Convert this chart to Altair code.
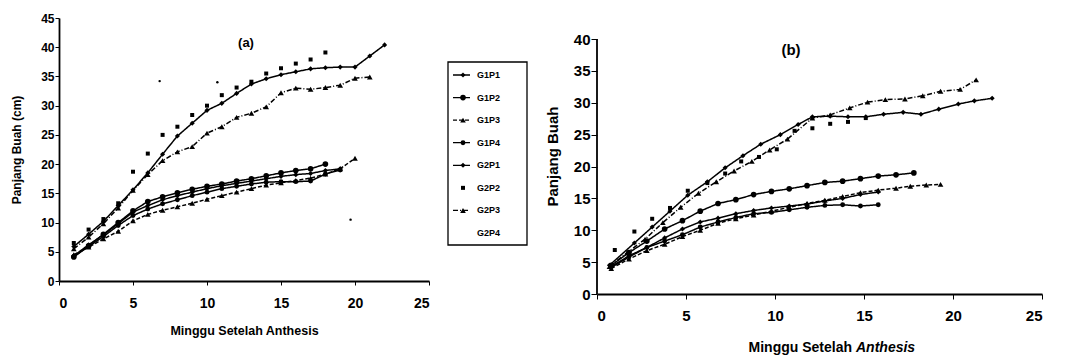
import altair as alt
import pandas as pd

FONT = "Liberation Sans"

SERIES = ["G1P1", "G1P2", "G1P3", "G1P4", "G2P1", "G2P2", "G2P3", "G2P4"]
SHAPES = ["diamond", "circle", "triangle-up", "circle", "diamond", "square", "triangle-up", "circle"]
SIZES = [26, 32, 32, 24, 26, 16, 32, 6]
DASHES = [[1, 0], [1, 0], [4, 2], [1, 0], [1, 0], [1, 0], [5, 2, 1, 2], [1, 0]]
LINE_SERIES = ["G1P1", "G1P2", "G1P3", "G1P4", "G2P1", "G2P3"]
LEGEND_LINE = [1, 1, 1, 1, 1, 0, 1, 0]
LEGEND_MARK = [1, 1, 1, 1, 1, 1, 1, 0]

# ---------------- panel (a) ----------------
A_WEEKS = {
    "G1P1": list(range(1, 20)),
    "G1P2": list(range(1, 19)),
    "G1P3": list(range(1, 21)),
    "G1P4": list(range(1, 20)),
    "G2P1": list(range(1, 23)),
    "G2P2": list(range(1, 19)),
    "G2P3": list(range(1, 22)),
    "G2P4": [6.8, 10.7, 19.7],
}
A_VALUES = {
    "G1P1": [4.3, 6.2, 7.9, 9.8, 11.8, 12.9, 13.9, 14.6, 15.2, 15.8, 16.3, 16.7, 17.1, 17.5, 17.9, 18.2, 18.4, 18.9, 19.2],
    "G1P2": [4.1, 6.0, 8.0, 10.0, 12.0, 13.6, 14.4, 15.1, 15.7, 16.2, 16.6, 17.1, 17.5, 18.0, 18.5, 18.9, 19.2, 20.0],
    "G1P3": [4.5, 5.8, 7.2, 8.5, 10.3, 11.4, 12.1, 12.7, 13.3, 14.0, 14.6, 15.2, 15.8, 16.4, 16.8, 17.2, 17.6, 18.3, 19.2, 21.0],
    "G1P4": [4.2, 5.9, 7.6, 9.5, 11.2, 12.3, 13.2, 13.9, 14.6, 15.2, 15.8, 16.2, 16.6, 16.9, 17.0, 17.0, 17.1, 18.3, 19.0],
    "G2P1": [5.9, 8.0, 10.2, 12.9, 15.6, 18.5, 21.7, 24.8, 27.0, 29.2, 30.4, 32.1, 33.7, 34.6, 35.3, 35.8, 36.3, 36.5, 36.6, 36.6, 38.5, 40.4],
    "G2P2": [6.5, 8.8, 10.6, 13.3, 18.7, 21.8, 25.0, 26.4, 28.4, 30.0, 31.8, 33.1, 34.1, 35.5, 36.4, 37.2, 37.9, 39.1],
    "G2P3": [5.5, 7.5, 9.8, 12.5, 15.5, 18.2, 20.6, 22.1, 23.0, 25.3, 26.4, 28.0, 28.7, 29.8, 32.2, 33.0, 32.8, 33.1, 33.5, 34.7, 34.9],
    "G2P4": [34.2, 34.0, 10.5],
}

# ---------------- panel (b) ----------------
B_WEEKS = {
    "G1P1": [0.8, 1.8, 2.8, 3.8, 4.8, 5.8, 6.8, 7.8, 8.8, 9.8, 10.8, 11.8, 12.8, 13.8, 14.8, 15.8],
    "G1P2": [0.8, 1.8, 2.8, 3.8, 4.8, 5.8, 6.8, 7.8, 8.8, 9.8, 10.8, 11.8, 12.8, 13.8, 14.8, 15.8, 16.8, 17.8],
    "G1P3": [0.8, 1.8, 2.8, 3.8, 4.8, 5.8, 6.8, 7.8, 8.8, 9.8, 10.8, 11.8, 12.8, 13.8, 14.8, 15.8, 16.8, 17.6, 18.5, 19.3],
    "G1P4": [0.8, 1.8, 2.8, 3.8, 4.8, 5.8, 6.8, 7.8, 8.8, 9.8, 10.8, 11.8, 12.8, 13.8, 14.8, 15.8],
    "G2P1": [0.7, 2.1, 3.1, 4.1, 5.1, 6.2, 7.2, 8.2, 9.2, 10.3, 11.3, 12.1, 13.1, 14.1, 15.1, 16.1, 17.2, 18.2, 19.2, 20.3, 21.2, 22.2],
    "G2P2": [1.0, 2.1, 3.1, 4.1, 5.1, 6.2, 7.2, 8.1, 9.1, 10.1, 11.1, 12.1, 13.1, 14.1, 15.1],
    "G2P3": [0.7, 1.7, 2.7, 3.7, 4.7, 5.7, 6.7, 7.7, 8.7, 9.7, 10.7, 12.1, 13.1, 14.2, 15.2, 16.2, 17.3, 18.3, 19.3, 20.4, 21.3],
}
B_VALUES = {
    "G1P1": [4.2, 5.8, 7.3, 8.8, 10.2, 11.3, 11.9, 12.6, 13.1, 13.5, 13.8, 14.1, 14.6, 15.0, 15.6, 16.0],
    "G1P2": [4.5, 6.5, 8.3, 10.2, 11.5, 13.0, 14.2, 14.8, 15.6, 16.1, 16.5, 17.0, 17.5, 17.7, 18.1, 18.5, 18.7, 19.0],
    "G1P3": [4.0, 5.5, 6.8, 7.8, 9.0, 10.0, 11.1, 11.8, 12.4, 13.0, 13.6, 14.2, 14.7, 15.3, 15.9, 16.3, 16.6, 16.9, 17.1, 17.2],
    "G1P4": [4.3, 6.0, 7.3, 8.3, 9.3, 10.5, 11.3, 12.0, 12.6, 12.8, 13.2, 13.6, 13.9, 14.0, 13.8, 14.0],
    "G2P1": [4.5, 8.0, 10.5, 13.0, 15.5, 17.6, 19.8, 21.7, 23.5, 25.0, 26.6, 27.8, 27.9, 27.8, 27.8, 28.2, 28.5, 28.2, 29.0, 29.8, 30.3, 30.7],
    "G2P2": [6.9, 9.8, 11.8, 13.5, 16.2, 17.4, 18.9, 20.8, 21.5, 22.7, 25.6, 26.0, 26.7, 27.0, 27.6],
    "G2P3": [4.3, 6.5, 8.6, 11.2, 13.6, 15.8, 17.6, 19.3, 20.8, 22.6, 24.3, 27.6, 28.1, 29.2, 30.1, 30.5, 30.6, 31.1, 31.8, 32.1, 33.6],
}

X_TICKS = [0, 5, 10, 15, 20, 25]
A_Y_TICKS = [0, 5, 10, 15, 20, 25, 30, 35, 40, 45]
B_Y_TICKS = [0, 5, 10, 15, 20, 25, 30, 35, 40]


def build(weeks, values):
    rows = []
    for s in SERIES:
        if s in values:
            for w, v in zip(weeks[s], values[s]):
                rows.append({"series": s, "week": w, "value": v})
    return pd.DataFrame(rows)


one = pd.DataFrame({"k": [0]})

shape_scale = alt.Scale(domain=SERIES, range=SHAPES)
size_scale = alt.Scale(type="ordinal", domain=SERIES, range=SIZES)
dash_scale = alt.Scale(domain=SERIES, range=DASHES)
x_scale = alt.Scale(domain=[0, 25], nice=False, zero=False)


def panel(df, yscale, xaxis, yaxis, width, height, extra):
    base = alt.Chart(df).encode(
        x=alt.X("week:Q", scale=x_scale, axis=xaxis),
        y=alt.Y("value:Q", scale=yscale, axis=yaxis),
    )
    lines = base.transform_filter(
        alt.FieldOneOfPredicate(field="series", oneOf=LINE_SERIES)
    ).mark_line(color="black", strokeWidth=1.5).encode(
        strokeDash=alt.StrokeDash("series:N", scale=dash_scale, legend=None),
        order="week:Q",
    )
    points = base.mark_point(filled=True, color="black", opacity=1).encode(
        shape=alt.Shape("series:N", scale=shape_scale, legend=None),
        size=alt.Size("series:N", scale=size_scale, legend=None),
    )
    return alt.layer(lines, points, *extra).properties(width=width, height=height)


dfa = build(A_WEEKS, A_VALUES)
dfb = build(B_WEEKS, B_VALUES)

axa_x = alt.Axis(values=X_TICKS, title="Minggu Setelah Anthesis", grid=False, labelFontSize=14,
                 titleFontSize=12.5, tickSize=4, labelPadding=11, titlePadding=14, domainWidth=1.8,
                 labelAngle=0, labelOverlap=False)
axa_y = alt.Axis(values=A_Y_TICKS, title="Panjang Buah (cm)", grid=False, labelFontSize=12,
                 titleFontSize=12, tickSize=4, labelPadding=1, titlePadding=17, domainWidth=1.8,
                 labelOverlap=False)
title_a = alt.Chart(one).mark_text(text="(a)", font=FONT, fontWeight="bold", fontSize=13,
                                   color="black").encode(x=alt.value(187), y=alt.value(25))
pa = panel(dfa, alt.Scale(domain=[0, 45], nice=False), axa_x, axa_y, 370, 263, [title_a])

axb_x = alt.Axis(values=X_TICKS, title=None, grid=False, labelFontSize=15, tickSize=5,
                 labelPadding=9, domainWidth=1.8, labelAngle=0, labelOverlap=False)
axb_y = alt.Axis(values=B_Y_TICKS, title="Panjang Buah", grid=False, labelFontSize=15,
                 titleFontSize=15, tickSize=6, labelPadding=1, titlePadding=13, domain=False,
                 labelOverlap=False)
yb_scale = alt.Scale(domain=[0, 43.3], nice=False)
yline_b = alt.Chart(one).mark_rule(color="black", strokeWidth=1.8).encode(
    x=alt.XDatum(0, scale=x_scale, axis=axb_x),
    y=alt.YDatum(0, scale=yb_scale, axis=axb_y),
    y2=alt.Y2Datum(40),
)
title_b = alt.Chart(one).mark_text(text="(b)", font=FONT, fontWeight="bold", fontSize=15,
                                   color="black").encode(x=alt.value(194), y=alt.value(32))
xt1 = alt.Chart(one).mark_text(text="Minggu Setelah", font=FONT, fontWeight="bold", fontSize=14,
                               align="right", color="black").encode(x=alt.value(255), y=alt.value(330))
xt2 = alt.Chart(one).mark_text(text="Anthesis", font=FONT, fontWeight="bold", fontStyle="italic",
                               fontSize=14, align="left", color="black").encode(x=alt.value(259), y=alt.value(330))
pb = panel(dfb, yb_scale, axb_x, axb_y, 445, 276, [yline_b, title_b, xt1, xt2])

# ---------------- legend ----------------
leg_df = pd.DataFrame({"series": SERIES, "line": LEGEND_LINE, "mark": LEGEND_MARK})
ly = alt.Y("series:N", sort=SERIES, scale=alt.Scale(type="point", range=[57, 215], padding=0), axis=None)
leg_box = alt.Chart(one).mark_rect(fillOpacity=0, stroke="black", strokeWidth=1.3).encode(
    x=alt.value(4), x2=alt.value(83), y=alt.value(44), y2=alt.value(227))
leg_lines = alt.Chart(leg_df).mark_rule(color="black", strokeWidth=1.3).encode(
    x=alt.value(9), x2=alt.value(26), y=ly,
    strokeDash=alt.StrokeDash("series:N", scale=dash_scale, legend=None),
    opacity=alt.Opacity("line:Q", scale=alt.Scale(domain=[0, 1], range=[0, 1]), legend=None),
)
leg_marks = alt.Chart(leg_df).mark_point(filled=True, color="black").encode(
    x=alt.value(19), y=ly,
    shape=alt.Shape("series:N", scale=shape_scale, legend=None),
    size=alt.Size("series:N", scale=size_scale, legend=None),
    opacity=alt.Opacity("mark:Q", scale=alt.Scale(domain=[0, 1], range=[0, 1]), legend=None),
)
leg_text = alt.Chart(leg_df).mark_text(align="left", font=FONT, fontWeight="bold", fontSize=9,
                                       color="black").encode(x=alt.value(33), y=ly, text="series:N")
leg = alt.layer(leg_box, leg_lines, leg_marks, leg_text).properties(width=87, height=227)

chart = alt.hconcat(pa, leg, pb, spacing=14).resolve_scale(
    shape="independent", size="independent", strokeDash="independent", opacity="independent"
).properties(
    padding={"left": 2, "top": 4, "right": 0, "bottom": 0}
).configure_view(stroke=None).configure_axis(
    labelFont=FONT, titleFont=FONT, labelFontWeight="bold", titleFontWeight="bold",
    labelColor="black", titleColor="black", domainColor="black", tickColor="black",
)

chart.save("out.html", embed_options={"renderer": "svg", "actions": False})
